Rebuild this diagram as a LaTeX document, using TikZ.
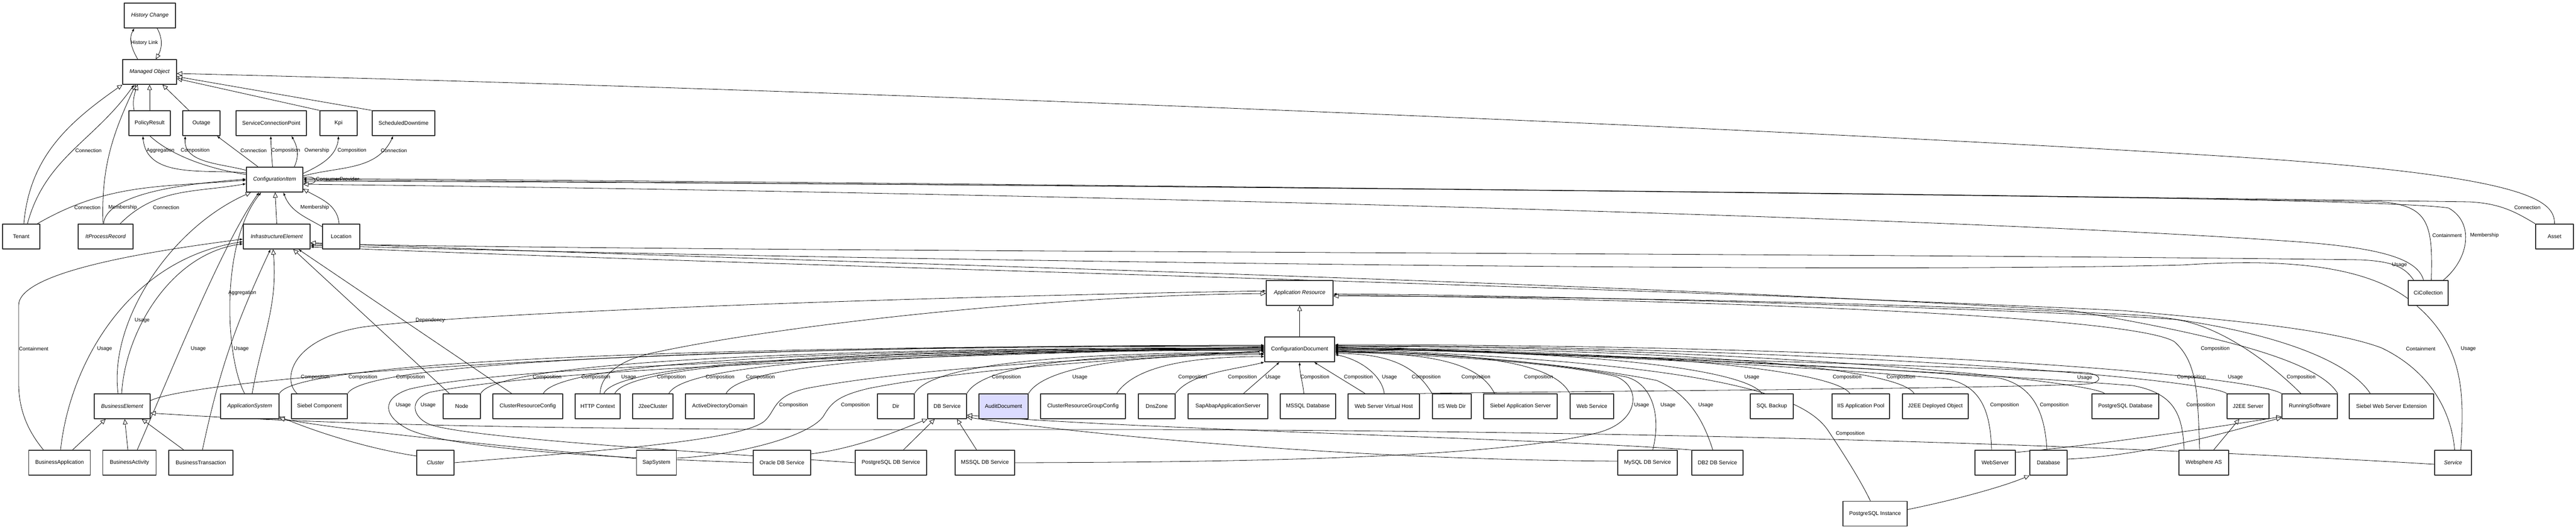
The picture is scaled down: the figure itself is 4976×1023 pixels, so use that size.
\documentclass[tikz,border=0pt]{standalone}
\usepackage{fontspec}
\setmainfont{Liberation Sans}
\usetikzlibrary{arrows.meta, backgrounds}
\definecolor{rahmen}{RGB}{45,45,45}
\definecolor{audit}{RGB}{220,220,255}
\tikzset{
  cls/.style={draw=rahmen, line width=1.4pt, fill=white, minimum height=48pt, inner sep=1pt, font=\fontsize{10.5}{12}\selectfont},
  ital/.style={font=\fontsize{10.5}{12}\selectfont\itshape},
  gen/.style={line width=0.8pt, -{Triangle[length=10pt, width=9pt, fill=white]}},
  asc/.style={line width=0.8pt, -{Latex[length=6pt, width=4.5pt]}},
  lbl/.style={font=\fontsize{10}{12}\selectfont, inner sep=0pt}
}

\begin{document}
\begin{tikzpicture}[x=1pt, y=1pt, line join=round]
\useasboundingbox (0,0) rectangle (4976,-1023);

% top classes
\node[cls, ital, minimum width=99pt] (HC) at (289.5,-30) {History Change};
\node[cls, ital, minimum width=104pt] (MO) at (289,-139) {Managed Object};
\node[cls, minimum width=80pt] (PR) at (289,-238) {PolicyResult};
\node[cls, minimum width=72pt] (Outage) at (389,-238) {Outage};
\node[cls, minimum width=136pt] (SCP) at (524,-238) {ServiceConnectionPoint};
\node[cls, minimum width=72pt] (Kpi) at (654,-238) {Kpi};
\node[cls, minimum width=121pt] (SD) at (779.5,-238) {ScheduledDowntime};
\node[cls, ital, minimum width=109pt] (CI) at (530.5,-347) {ConfigurationItem};
\node[cls, minimum width=72pt] (Tenant) at (41,-457) {Tenant};
\node[cls, ital, minimum width=106pt] (IPR) at (204,-457) {ItProcessRecord};
\node[cls, ital, minimum width=129pt] (IE) at (534.5,-457) {InfrastructureElement};
\node[cls, minimum width=72pt] (Location) at (659,-457) {Location};
\node[cls, minimum width=73pt] (Asset) at (4934.5,-457) {Asset};
\node[cls, ital, minimum width=129pt] (AR) at (2510.5,-566) {Application Resource};
\node[cls, minimum width=77pt] (CiCollection) at (4690.5,-566) {CiCollection};
\node[cls, minimum width=135pt] (CD) at (2510.5,-675) {ConfigurationDocument};

% row of documents
\node[cls, ital, minimum width=108pt] (BE) at (236,-785) {BusinessElement};
\node[cls, ital, minimum width=113pt] (AppSys) at (482.5,-785) {ApplicationSystem};
\node[cls, minimum width=108pt] (SC) at (617,-785) {Siebel Component};
\node[cls, minimum width=72pt] (Node) at (892,-785) {Node};
\node[cls, minimum width=135pt] (CRC) at (1019.5,-785) {ClusterResourceConfig};
\node[cls, minimum width=87pt] (HTTP) at (1154.5,-785) {HTTP Context};
\node[cls, minimum width=78pt] (J2eeCluster) at (1261,-785) {J2eeCluster};
\node[cls, minimum width=133pt] (ADD) at (1390.5,-785) {ActiveDirectoryDomain};
\node[cls, minimum width=71pt] (Dir) at (1730.5,-785) {Dir};
\node[cls, minimum width=75pt] (DBService) at (1829.5,-785) {DB Service};
\node[cls, fill=audit, minimum width=95pt] (Audit) at (1938.5,-785) {AuditDocument};
\node[cls, minimum width=164pt] (CRGC) at (2092,-785) {ClusterResourceGroupConfig};
\node[cls, minimum width=71pt] (DnsZone) at (2234.5,-785) {DnsZone};
\node[cls, minimum width=154pt] (SapAbap) at (2372,-785) {SapAbapApplicationServer};
\node[cls, minimum width=107pt] (MSSQLDB) at (2526.5,-785) {MSSQL Database};
\node[cls, minimum width=138pt] (WSVH) at (2673,-785) {Web Server Virtual Host};
\node[cls, minimum width=75pt] (IISWebDir) at (2804.5,-785) {IIS Web Dir};
\node[cls, minimum width=142pt] (SAS) at (2937,-785) {Siebel Application Server};
\node[cls, minimum width=84pt] (WebService) at (3075,-785) {Web Service};
\node[cls, minimum width=83pt] (SQLBackup) at (3422.5,-785) {SQL Backup};
\node[cls, minimum width=111pt] (IISAppPool) at (3594.5,-785) {IIS Application Pool};
\node[cls, minimum width=127pt] (J2EEDO) at (3738.5,-785) {J2EE Deployed Object};
\node[cls, minimum width=129pt] (PGDatabase) at (4105.5,-785) {PostgreSQL Database};
\node[cls, minimum width=81pt] (J2EEServer) at (4342.5,-785) {J2EE Server};
\node[cls, minimum width=107pt] (RS) at (4461.5,-785) {RunningSoftware};
\node[cls, minimum width=163pt] (SWSE) at (4619.5,-785) {Siebel Web Server Extension};

% lower row
\node[cls, minimum width=119.5pt] (BA) at (115,-894) {BusinessApplication};
\node[cls, minimum width=102.5pt] (BAct) at (250,-894) {BusinessActivity};
\node[cls, minimum width=124pt] (BT) at (388,-894) {BusinessTransaction};
\node[cls, ital, minimum width=72pt] (Cluster) at (841,-894) {Cluster};
\node[cls, minimum width=77.5pt] (SapSystem) at (1268,-894) {SapSystem};
\node[cls, minimum width=111pt] (Oracle) at (1510.5,-894) {Oracle DB Service};
\node[cls, minimum width=138pt] (PGDBS) at (1721,-894) {PostgreSQL DB Service};
\node[cls, minimum width=115pt] (MSSQLDBS) at (1902.5,-894) {MSSQL DB Service};
\node[cls, minimum width=115pt] (MySQL) at (3182.5,-894) {MySQL DB Service};
\node[cls, minimum width=99pt] (DB2) at (3317.5,-894) {DB2 DB Service};
\node[cls, minimum width=78pt] (WebServer) at (3854,-894) {WebServer};
\node[cls, minimum width=72pt] (Database) at (3957,-894) {Database};
\node[cls, minimum width=96pt] (WAS) at (4257,-894) {Websphere AS};
\node[cls, ital, minimum width=71pt] (Service) at (4738.5,-894) {Service};
\node[cls, minimum width=124pt] (PI) at (3622,-992.5) {PostgreSQL Instance};

\begin{scope}[on background layer]
\fill[white] (0,0) rectangle (4976,-1023);

% managed object
\draw[asc] ([xshift=-23pt]MO.north) to[out=120,in=-120] ([xshift=-30pt]HC.south) node[lbl] at (279,-83) {History Link};
\draw[gen] ([xshift=14pt]HC.south) to[out=-60,in=60] ([xshift=12pt]MO.north);
\draw[gen] (PR.north) -- (MO.south);
\draw[gen] ([xshift=-24pt]Outage.north) -- ([xshift=25pt]MO.south);
\draw[gen] ([xshift=5pt]Tenant.north) to[out=85,in=-145] (MO.south west);
\draw[asc] ([xshift=12pt]Tenant.north) to[out=75,in=-125] ([xshift=-30pt]MO.south) node[lbl] at (171,-291) {Connection};
\draw[gen] ([xshift=-5pt]IPR.north) to[out=92,in=-115] ([xshift=-27pt]MO.south);
\draw[gen] ([yshift=10pt]CI.west) to[out=172,in=-110] ([xshift=-23pt]MO.south);
\draw[gen] (Kpi.north west) -- ([yshift=-13pt]MO.east);
\draw[gen] (SD.north west) -- ([yshift=-9pt]MO.east);
\draw[gen] (Asset.north) .. controls (4934,-390) and (4900,-339) .. (4300,-302) .. controls (3300,-240) and (1500,-170) .. ([yshift=-3pt]MO.east);

% configuration item
\draw[asc] ([yshift=13pt]CI.west) to[out=175,in=-85] ([xshift=-13pt]PR.south) node[lbl] at (310,-291) {Aggregation};
\draw[asc] ([yshift=18pt]CI.west) to[out=165,in=-95] ([xshift=-31pt]Outage.south) node[lbl] at (377,-291) {Composition};
\draw[asc] ([xshift=-32pt]CI.north) -- ([xshift=30pt]Outage.south) node[lbl] at (490,-291) {Connection};
\draw[asc] ([xshift=-4pt]CI.north) to[out=95,in=-88] ([xshift=-1pt]SCP.south) node[lbl] at (552,-291) {Composition};
\draw[asc] ([xshift=38pt]CI.north) to[out=65,in=-60] ([xshift=39pt]SCP.south) node[lbl] at (612,-291) {Ownership};
\draw[asc] ([yshift=12pt]CI.east) to[out=25,in=-95] (Kpi.south) node[lbl] at (680,-291) {Composition};
\draw[asc] ([yshift=7pt]CI.east) to[out=15,in=-115] ([xshift=-20pt]SD.south) node[lbl] at (761,-291) {Connection};
\draw[asc] ([yshift=4pt]CI.east) .. controls +(30,6) and +(30,-6) .. ([yshift=-6pt]CI.east) node[lbl] at (652,-346) {ConsumerProvider};
\draw[asc] ([xshift=31pt]Tenant.north) to[out=30,in=185] ([yshift=-1pt]CI.west) node[lbl] at (169,-401) {Connection};
\draw[asc] ([xshift=-4pt]IPR.north) to[out=85,in=185,looseness=0.6] ([yshift=1pt]CI.west) node[lbl] at (237,-401) {Membership};
\draw[asc] ([xshift=28pt]IPR.north) to[out=45,in=190] ([yshift=-8pt]CI.west) node[lbl] at (321,-401) {Connection};
\draw[gen] ([xshift=-4pt]Location.north) to[out=95,in=-30] ([yshift=-18pt]CI.east);
\draw[asc] ([yshift=19pt]Location.west) to[out=150,in=-70] ([xshift=17pt]CI.south) node[lbl] at (608,-401) {Membership};
\draw[gen] (IE.north) -- ([xshift=1pt]CI.south);
\draw[gen] ([xshift=-9pt]CiCollection.north) .. controls (4670,-500) and (4600,-480) .. (4450,-468) .. controls (3800,-420) and (2000,-372) .. ([yshift=-9pt]CI.east);
\draw[asc] ([xshift=6pt]CiCollection.north) .. controls (4700,-430) and (4690,-398) .. (4600,-390) .. controls (3500,-370) and (1500,-352) .. ([yshift=-3pt]CI.east) node[lbl] at (4727,-455) {Containment};
\draw[asc] ([xshift=29pt]CiCollection.north) .. controls (4770,-500) and (4780,-430) .. (4730,-402) .. controls (4600,-380) and (3000,-366) .. (CI.east) node[lbl] at (4799,-455) {Membership};
\draw[asc] (Asset.north west) .. controls (4860,-410) and (4830,-393) .. (4770,-390) .. controls (3500,-372) and (1500,-350) .. ([yshift=2pt]CI.east) node[lbl] at (4882,-401) {Connection};

% business side
\draw[asc] ([xshift=-31pt]BA.north) .. controls (60,-840) and (36,-800) .. (36,-740) -- (36,-590) .. controls (36,-530) and (250,-490) .. ([yshift=-5pt]IE.west) node[lbl] at (65,-674) {Containment};
\draw[asc] ([xshift=2pt]BA.north) .. controls (135,-700) and (250,-500) .. ([yshift=-10pt]IE.west) node[lbl] at (202,-674) {Usage};
\draw[asc] ([xshift=-1pt]BE.north) .. controls (242,-640) and (330,-490) .. ([yshift=-14pt]IE.west) node[lbl] at (274.5,-619) {Usage};
\draw[gen] ([xshift=-8pt]BE.north) .. controls (210,-620) and (330,-440) .. ([xshift=-46pt]CI.south);
\draw[asc] ([xshift=15pt]BAct.north) .. controls (330,-720) and (430,-470) .. ([xshift=-30pt]CI.south) node[lbl] at (383,-674) {Usage};
\draw[asc] ([xshift=-10pt]AppSys.north) .. controls (435,-690) and (425,-470) .. ([xshift=-26pt]CI.south) node[lbl] at (468,-566) {Aggregation};
\draw[asc] ([xshift=3pt]BT.north) to[out=78,in=-115] ([xshift=-12pt]IE.south) node[lbl] at (466,-674) {Usage};
\draw[gen] ([xshift=4.5pt]AppSys.north) to[out=80,in=-85] ([xshift=-7pt]IE.south);
\draw[gen] ([xshift=-24pt]Node.north) -- ([xshift=32pt]IE.south);
\draw[asc] ([xshift=-31pt]CRC.north) -- ([xshift=42pt]IE.south);
\draw[gen] ([xshift=25pt]BA.north) -- ([xshift=-32pt]BE.south);
\draw[gen] ([xshift=-3pt]BAct.north) -- ([xshift=5pt]BE.south);
\draw[gen] ([xshift=-33pt]BT.north) -- ([xshift=38pt]BE.south);
\draw[gen] ([yshift=-3pt]Service.west) .. controls (4000,-855) and (3000,-828) .. (2000,-830) .. controls (1000,-832) and (600,-818) .. ([yshift=-13pt]BE.east);
\draw[gen] ([yshift=13pt]Cluster.west) .. controls (700,-865) and (600,-830) .. ([yshift=-20pt]AppSys.east);
\draw[gen] ([yshift=8pt]SapSystem.west) .. controls (950,-860) and (650,-830) .. ([yshift=-23pt]AppSys.east);

% infrastructure element, right side
\draw[asc] ([xshift=-28pt]CiCollection.north) .. controls (4645,-515) and (4620,-505) .. (4560,-502) .. controls (3500,-488) and (1500,-488) .. ([yshift=-14pt]IE.east) node[lbl] at (4635,-512) {Usage};
\draw[asc] ([xshift=15pt]Service.north) .. controls (4760,-760) and (4762,-660) .. (4650,-576) .. controls (4560,-510) and (4400,-500) .. (4216,-512) .. controls (3500,-530) and (1500,-500) .. ([yshift=-17pt]IE.east) node[lbl] at (4768,-674) {Usage};
\draw[asc] ([xshift=3pt]Service.north) .. controls (4735,-790) and (4690,-715) .. (4600,-672) .. controls (4500,-635) and (4300,-618) .. (4100,-600) .. controls (3000,-548) and (1500,-515) .. ([yshift=-20pt]IE.east) node[lbl] at (4676,-674) {Containment};
\draw[gen] (RS.north east) .. controls (4480,-700) and (4300,-650) .. (4000,-600) .. controls (3000,-540) and (1500,-505) .. ([yshift=-12pt]IE.east);

% application resource
\draw[gen] (CD.north) -- (AR.south);
\draw[asc] ([xshift=-43pt]SC.north) .. controls (545,-735) and (560,-655) .. (700,-632) .. controls (900,-605) and (1700,-575) .. ([yshift=4pt]AR.west) node[lbl] at (831,-619) {Dependency};
\draw[gen] ([xshift=4.5pt]HTTP.north) .. controls (1160,-735) and (1180,-700) .. (1260,-682) .. controls (1500,-630) and (2000,-572) .. ([yshift=-1pt]AR.west);
\draw[asc] ([xshift=-17pt]RS.north) .. controls (4405,-720) and (4300,-630) .. (4200,-617) .. controls (3900,-597) and (3000,-570) .. ([yshift=-2pt]AR.east) node[lbl] at (4445,-729) {Composition};
\draw[asc] ([xshift=-8pt]WAS.north) .. controls (4245,-760) and (4245,-700) .. (4200,-660) .. controls (4100,-600) and (3000,-575) .. ([yshift=-4pt]AR.east) node[lbl] at (4279,-674) {Composition};
\draw[gen] ([xshift=-41pt]SWSE.north) .. controls (4540,-700) and (4400,-640) .. (4150,-610) .. controls (3700,-585) and (3000,-572) .. ([yshift=-6pt]AR.east);

% configuration document, left fan
\draw[asc] ([yshift=11pt]BE.east) .. controls +(80,40) and +(-1290,0) .. ([yshift=8pt]CD.west) node[lbl] at (609,-729) {Composition};
\draw[asc] (AppSys.north east) .. controls +(30,60) and +(-1140,0) .. ([yshift=7pt]CD.west) node[lbl] at (701,-729) {Composition};
\draw[asc] (SC.north east) .. controls +(30,60) and +(-1060,0) .. ([yshift=6pt]CD.west) node[lbl] at (793,-729) {Composition};
\draw[asc] (Oracle.west) .. controls (1200,-885) and (880,-870) .. (790,-830) .. controls (740,-805) and (735,-770) .. (790,-752) .. controls (1000,-700) and (1900,-685) .. ([yshift=5pt]CD.west) node[lbl] at (779,-783) {Usage};
\draw[asc] (PGDBS.west) .. controls (1300,-870) and (900,-845) .. (830,-820) .. controls (795,-805) and (790,-772) .. (830,-758) .. controls (1100,-705) and (1900,-686) .. ([yshift=4pt]CD.west) node[lbl] at (827,-783) {Usage};
\draw[asc] (Node.north east) .. controls +(30,60) and +(-900,0) .. ([yshift=3pt]CD.west) node[lbl] at (1057,-729) {Composition};
\draw[asc] ([xshift=30pt]CRC.north) .. controls +(30,60) and +(-840,0) .. ([yshift=2pt]CD.west) node[lbl] at (1151,-729) {Composition};
\draw[asc] ([xshift=12pt]HTTP.north) .. controls +(25,60) and +(-770,0) .. ([yshift=1pt]CD.west) node[lbl] at (1214.5,-729) {Usage};
\draw[asc] ([xshift=33pt]HTTP.north) .. controls +(30,60) and +(-750,0) .. (CD.west) node[lbl] at (1297,-729) {Composition};
\draw[asc] ([xshift=31pt]J2eeCluster.north) .. controls +(30,60) and +(-690,0) .. ([yshift=-1pt]CD.west) node[lbl] at (1391,-729) {Composition};
\draw[asc] ([xshift=12pt]ADD.north) .. controls +(30,60) and +(-620,0) .. ([yshift=-2pt]CD.west) node[lbl] at (1469,-729) {Composition};
\draw[asc] (Cluster.east) .. controls (1100,-875) and (1420,-855) .. (1475,-815) .. controls (1500,-795) and (1490,-765) .. (1560,-750) .. controls (1800,-705) and (2200,-690) .. ([yshift=-3pt]CD.west) node[lbl] at (1533,-783) {Composition};
\draw[asc] ([yshift=9pt]SapSystem.east) .. controls (1420,-880) and (1560,-845) .. (1590,-805) .. controls (1605,-780) and (1615,-765) .. (1680,-750) .. controls (1900,-708) and (2200,-692) .. ([yshift=-4pt]CD.west) node[lbl] at (1652.5,-783) {Composition};
\draw[gen] (Dir.north east) .. controls +(30,55) and +(-400,0) .. ([yshift=-6pt]CD.west);
\draw[asc] (DBService.north east) .. controls +(30,55) and +(-350,0) .. ([yshift=-8pt]CD.west) node[lbl] at (1944,-729) {Composition};
\draw[asc] (Audit.north east) .. controls +(30,50) and +(-270,0) .. ([yshift=-10pt]CD.west) node[lbl] at (2086,-729) {Usage};
\draw[asc] ([xshift=65pt]CRGC.north) .. controls +(30,45) and +(-170,0) .. ([yshift=-14pt]CD.west) node[lbl] at (2304,-729) {Composition};
\draw[asc] (DnsZone.north east) .. controls +(30,40) and +(-60,-15) .. (CD.south west) node[lbl] at (2400,-729) {Composition};
\draw[asc] ([xshift=30pt]SapAbap.north) -- ([xshift=-39pt]CD.south) node[lbl] at (2459,-729) {Usage};

% configuration document, right fan
\draw[asc] ([xshift=-8pt]MSSQLDB.north) to[out=95,in=-90] (CD.south) node[lbl] at (2540,-729) {Composition};
\draw[asc] ([xshift=-36pt]WSVH.north) -- ([xshift=28pt]CD.south) node[lbl] at (2624,-729) {Composition};
\draw[asc] ([xshift=1pt]WSVH.north) .. controls +(-5,35) and +(50,-10) .. ([yshift=-10pt]CD.east) node[lbl] at (2684,-729) {Usage};
\draw[asc] (IISWebDir.north west) .. controls +(-30,50) and +(110,0) .. ([yshift=-8pt]CD.east) node[lbl] at (2755,-729) {Composition};
\draw[asc] ([xshift=-50pt]SAS.north) .. controls +(-30,60) and +(185,0) .. ([yshift=-6pt]CD.east) node[lbl] at (2851,-729) {Composition};
\draw[asc] (WebService.north west) .. controls +(-30,60) and +(273,0) .. ([yshift=-5pt]CD.east) node[lbl] at (2972,-729) {Composition};
\draw[asc] (MSSQLDBS.east) .. controls (2400,-893) and (2900,-885) .. (3090,-835) .. controls (3170,-812) and (3170,-745) .. (3120,-727) .. controls (3000,-700) and (2800,-688) .. ([yshift=-4pt]CD.east) node[lbl] at (3171,-783) {Usage};
\draw[asc] ([xshift=10pt]MySQL.north) .. controls (3210,-800) and (3190,-740) .. (3140,-728) .. controls (3000,-700) and (2800,-683) .. ([yshift=-3pt]CD.east) node[lbl] at (3222,-783) {Usage};
\draw[asc] ([xshift=-9pt]DB2.north) .. controls (3290,-810) and (3260,-760) .. (3200,-735) .. controls (3050,-705) and (2800,-683) .. ([yshift=-2pt]CD.east) node[lbl] at (3295,-783) {Usage};
\draw[asc] ([xshift=-19pt]SQLBackup.north) .. controls +(-30,45) and +(500,0) .. ([yshift=-1pt]CD.east) node[lbl] at (3384,-729) {Usage};
\draw[asc] ([xshift=-21pt]IISAppPool.north) .. controls +(-30,45) and +(600,0) .. (CD.east) node[lbl] at (3568,-729) {Composition};
\draw[asc] ([xshift=-9pt]PI.north) .. controls (3590,-920) and (3550,-860) .. (3530,-830) .. controls (3480,-760) and (3300,-700) .. ([yshift=1pt]CD.east) node[lbl] at (3574,-838) {Composition};
\draw[asc] ([xshift=-41pt]J2EEDO.north) .. controls +(-30,50) and +(670,0) .. ([yshift=2pt]CD.east) node[lbl] at (3672,-729) {Composition};
\draw[asc] ([xshift=-7pt]WebServer.north) .. controls (3845,-800) and (3830,-745) .. (3760,-732) .. controls (3400,-700) and (2900,-680) .. ([yshift=3pt]CD.east) node[lbl] at (3872,-783) {Composition};
\draw[asc] ([xshift=-3pt]Database.north) .. controls (3950,-800) and (3930,-745) .. (3860,-730) .. controls (3500,-700) and (2900,-680) .. ([yshift=4pt]CD.east) node[lbl] at (3968,-783) {Composition};
\draw[asc] (WSVH.north east) .. controls (2900,-757) and (3800,-752) .. (4030,-742) .. controls (4060,-740) and (4065,-725) .. (4030,-720) .. controls (3600,-700) and (2900,-685) .. ([yshift=5pt]CD.east) node[lbl] at (4027,-730) {Usage};
\draw[asc] ([xshift=-40pt]PGDatabase.north) .. controls +(-30,25) and +(800,0) .. ([yshift=6pt]CD.east);
\draw[asc] (J2EEServer.north west) .. controls +(-40,30) and +(900,0) .. ([yshift=7pt]CD.east) node[lbl] at (4233,-729) {Composition};
\draw[asc] ([xshift=-38pt]WAS.north) .. controls (4216,-800) and (4200,-760) .. (4120,-745) .. controls (3600,-705) and (2900,-682) .. ([yshift=8pt]CD.east) node[lbl] at (4251,-783) {Composition};
\draw[asc] (RS.north west) .. controls +(-60,35) and +(1100,0) .. ([yshift=9pt]CD.east) node[lbl] at (4318,-729) {Usage};

% database services and software
\draw[gen] ([yshift=17pt]Oracle.east) .. controls (1660,-865) and (1740,-830) .. (DBService.south west);
\draw[gen] ([xshift=24pt]PGDBS.north) -- ([xshift=-24pt]DBService.south);
\draw[gen] ([xshift=-16pt]MSSQLDBS.north) -- ([xshift=19pt]DBService.south);
\draw[gen] ([yshift=3pt]MySQL.west) .. controls (2600,-888) and (2100,-840) .. ([yshift=-21pt]DBService.east);
\draw[gen] (DB2.north west) .. controls (3000,-848) and (2200,-830) .. ([yshift=-17pt]DBService.east);
\draw[gen] ([yshift=8pt]PI.east) .. controls (3780,-965) and (3870,-940) .. (Database.south west);
\draw[gen] ([yshift=20pt]WebServer.east) .. controls (4050,-860) and (4250,-830) .. ([yshift=-20pt]RS.west);
\draw[gen] ([yshift=7pt]Database.east) .. controls (4150,-880) and (4300,-835) .. ([yshift=-22pt]RS.west);
\draw[gen] ([xshift=19pt]WAS.north) -- ([xshift=-17pt]J2EEServer.south);
\end{scope}

\end{tikzpicture}
\end{document}
